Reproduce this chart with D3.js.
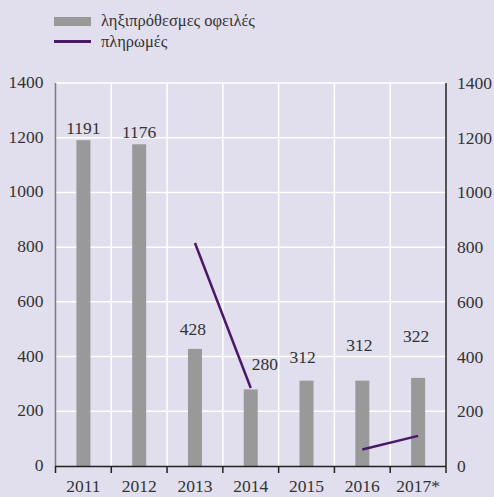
<!DOCTYPE html>
<html>
<head>
<meta charset="utf-8">
<script src="https://cdn.jsdelivr.net/npm/d3@7"></script>
</head>
<body style="margin:0;background:#e1deed">
<div id="fig" style="position:relative;width:494px;height:497px"></div>
<script>
"use strict";

// data
var years = ["2011", "2012", "2013", "2014", "2015", "2016", "2017*"];
var overdue = [1191, 1176, 428, 280, 312, 312, 322];
var payments = [null, null, 815, 285, null, 60, 110];
var yTicks = [0, 200, 400, 600, 800, 1000, 1200, 1400];
var legendNames = ["ληξιπρόθεσμες οφειλές", "πληρωμές"];

// nudges for the value labels (placed by hand in the original)
var labelDx = [0, 0, -2, 14, -4, -3, -2];
var labelDy = [-11, -11, -19, -24, -23, -35, -41];

var FONT = "'Liberation Serif', 'Times New Roman', serif";

function renderMyChart() {
    var root = d3.select("#fig");
    var svg = root.append("svg")
        .attr("width", 494)
        .attr("height", 497)
        .style("position", "absolute").style("left", "0px").style("top", "0px"),
        margin = { top: 83, right: 48, bottom: 31, left: 55.5 },
        width = +svg.attr("width") - margin.left - margin.right,
        height = +svg.attr("height") - margin.top - margin.bottom;

    svg.append("rect").attr("width", 494).attr("height", 497).attr("fill", "#e1deed");

    var x = d3.scaleBand().domain(years).range([0, width]).paddingInner(0).paddingOuter(0),
        y = d3.scaleLinear().domain([0, 1400]).range([height, 0]);

    var g = svg.append("g")
        .attr("transform", "translate(" + margin.left + "," + margin.top + ")");

    // text goes in html on top of the svg
    function label(txt, px, py, anchor, size) {
        var tx = anchor === "middle" ? "-50%" : anchor === "end" ? "-100%" : "0";
        root.append("div")
            .style("position", "absolute")
            .style("white-space", "nowrap")
            .style("line-height", "1")
            .style("color", "#333")
            .style("font-family", FONT, "important")
            .style("left", px + "px")
            .style("top", py + "px")
            .style("font-size", size + "px", "important")
            .style("transform", "translate(" + tx + ",-50%)")
            .text(txt);
    }

    // white grid
    g.selectAll(".hgrid")
        .data(yTicks.filter(function (t) { return t > 0; }))
        .enter().append("line")
        .attr("x1", 0).attr("x2", width)
        .attr("y1", function (d) { return y(d); })
        .attr("y2", function (d) { return y(d); })
        .attr("stroke", "#fff").attr("stroke-width", 1.5);

    g.selectAll(".vgrid")
        .data(years.slice(1))
        .enter().append("line")
        .attr("x1", function (d) { return x(d); })
        .attr("x2", function (d) { return x(d); })
        .attr("y1", 0).attr("y2", height)
        .attr("stroke", "#fff").attr("stroke-width", 1.5);

    // bars
    var barW = 14;
    g.selectAll(".bar")
        .data(overdue)
        .enter().append("rect")
        .attr("class", "bar")
        .attr("x", function (d, i) { return x(years[i]) + x.bandwidth() / 2 - barW / 2; })
        .attr("y", function (d) { return y(d); })
        .attr("width", barW)
        .attr("height", function (d) { return height - y(d); })
        .attr("fill", "#999999");

    // value labels
    overdue.forEach(function (d, i) {
        label(d, margin.left + x(years[i]) + x.bandwidth() / 2 + labelDx[i],
            margin.top + y(d) + labelDy[i], "middle", 17.5);
    });

    // payments line (right axis, same range)
    var line = d3.line()
        .defined(function (d) { return d != null; })
        .x(function (d, i) { return x(years[i]) + x.bandwidth() / 2; })
        .y(function (d) { return y(d); });

    g.append("path")
        .datum(payments)
        .attr("d", line)
        .attr("fill", "none")
        .attr("stroke", "#4a1a68")
        .attr("stroke-width", 2.5);

    // left axis
    g.append("line")
        .attr("x1", 0).attr("x2", 0).attr("y1", 0).attr("y2", height)
        .attr("stroke", "#7a7a7a").attr("stroke-width", 1.5);
    yTicks.forEach(function (t) {
        label(t, margin.left - 12, margin.top + y(t), "end", 17.5);
    });

    // right axis
    g.append("line")
        .attr("x1", width).attr("x2", width).attr("y1", 0).attr("y2", height + 7)
        .attr("stroke", "#222").attr("stroke-width", 1.5);
    yTicks.forEach(function (t) {
        label(t, margin.left + width + 11, margin.top + y(t) + 1, "start", 17.5);
    });

    // bottom axis, ticks on the category borders
    g.append("line")
        .attr("x1", 0).attr("x2", width).attr("y1", height + 0.5).attr("y2", height + 0.5)
        .attr("stroke", "#222").attr("stroke-width", 1.5);
    g.selectAll(".xtick")
        .data(years)
        .enter().append("line")
        .attr("x1", function (d) { return x(d); })
        .attr("x2", function (d) { return x(d); })
        .attr("y1", height).attr("y2", height + 7)
        .attr("stroke", "#222").attr("stroke-width", 1.5);
    years.forEach(function (yr) {
        label(yr, margin.left + x(yr) + x.bandwidth() / 2, margin.top + height + 21, "middle", 17.5);
    });

    // legend
    svg.append("rect").attr("x", 54).attr("y", 17).attr("width", 37).attr("height", 9).attr("fill", "#999999");
    svg.append("line").attr("x1", 54).attr("x2", 91).attr("y1", 41.5).attr("y2", 41.5)
        .attr("stroke", "#4a1a68").attr("stroke-width", 3);
    legendNames.forEach(function (n, i) {
        label(n, 101, 21 + i * 20.5, "start", 16.5);
    });
}

renderMyChart();
</script>
</body>
</html>
